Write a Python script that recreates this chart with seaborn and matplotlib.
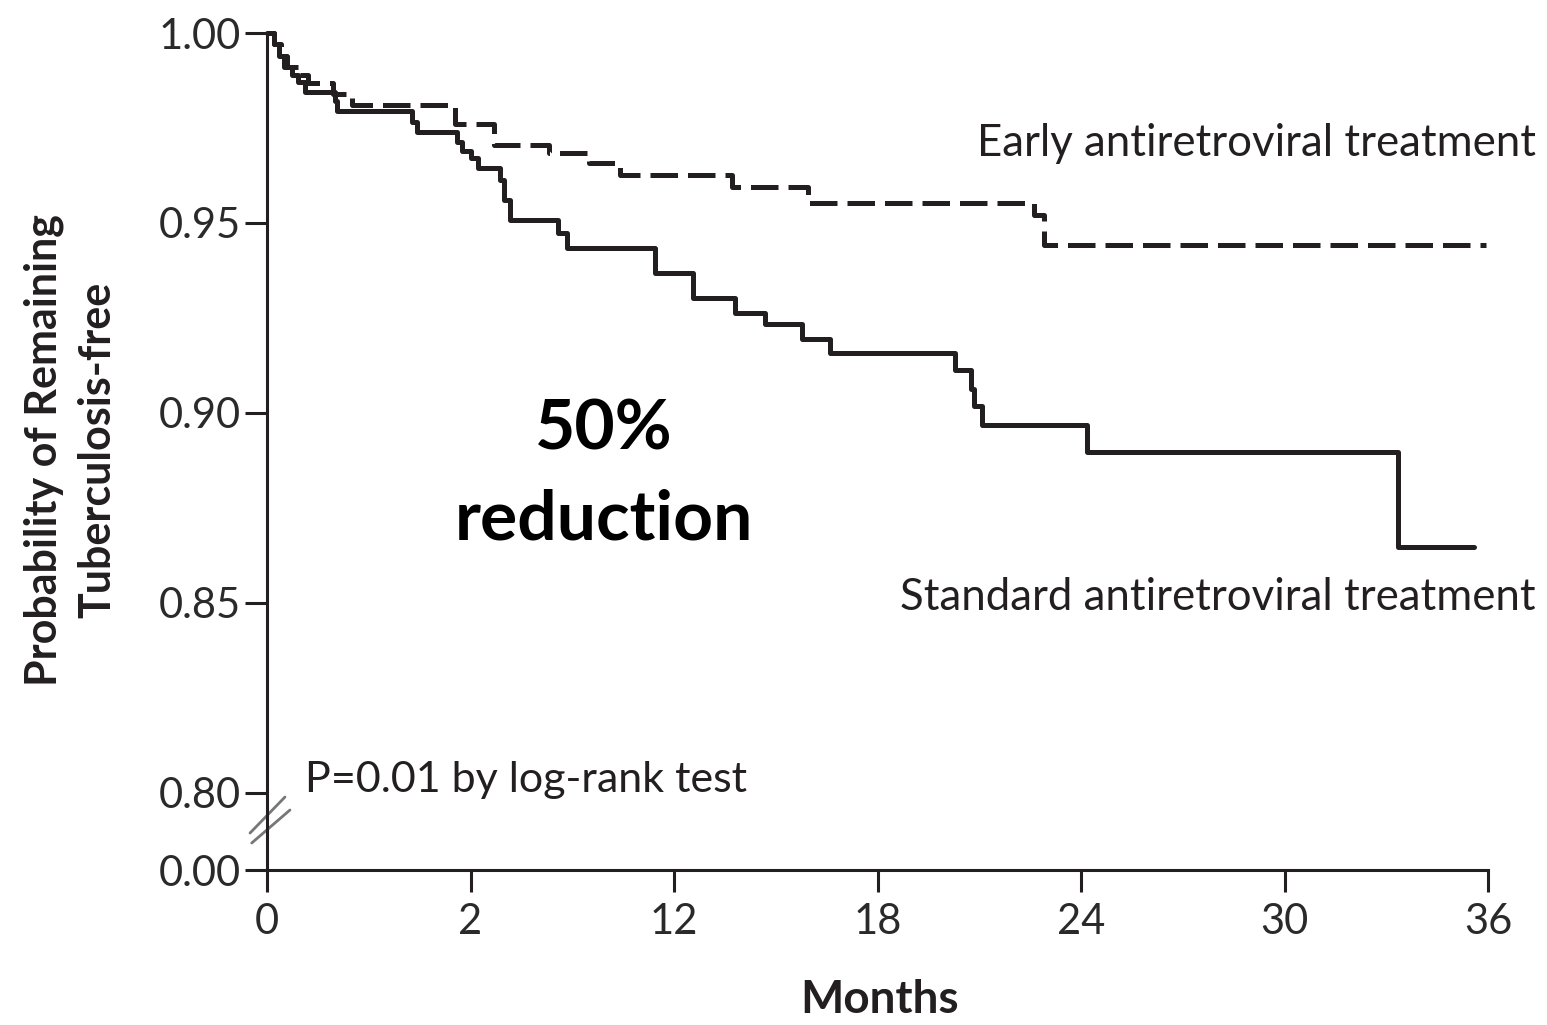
import numpy as np
import pandas as pd
import matplotlib
matplotlib.use("Agg")
import matplotlib.pyplot as plt
import seaborn as sns

# Kaplan-Meier step data (months, survival)
early_t = [0, 0.2, 0.4, 0.6, 0.9, 1.2, 1.95, 2.5, 5.55, 6.7, 8.3, 9.5, 10.4, 13.7, 15.95, 22.6, 22.9, 35.95]
early_s = [1.000, 0.997, 0.994, 0.991, 0.989, 0.9868, 0.984, 0.981, 0.976, 0.9705,
           0.9684, 0.9658, 0.9626, 0.9594, 0.9553, 0.952, 0.9442, 0.9442]

standard_t = [0, 0.2, 0.35, 0.5, 0.75, 0.9, 1.12, 2.0, 2.06, 4.27,
              4.41, 5.59, 5.74, 6.0, 6.23, 6.87, 7.0, 7.16, 8.58, 8.84,
              11.44, 12.56, 13.8, 14.68, 15.76, 16.6, 20.28, 20.77, 20.85, 21.07,
              24.17, 33.35, 35.6]
standard_s = [1.000, 0.997, 0.994, 0.991, 0.989, 0.987, 0.9846, 0.982, 0.9795, 0.9767,
              0.974, 0.9714, 0.969, 0.967, 0.9645, 0.9613, 0.956, 0.9508, 0.9474, 0.9434,
              0.9369, 0.9303, 0.9264, 0.9233, 0.9194, 0.9159, 0.9113, 0.9064, 0.9017, 0.8968,
              0.8896, 0.8648, 0.8648]

xtick_pos = [0, 6, 12, 18, 24, 30, 36]
xtick_labels = ["0", "2", "12", "18", "24", "30", "36"]
# bottom tick stands for 0.00 below the axis break
ytick_pos = [0.7797, 0.80, 0.85, 0.90, 0.95, 1.00]
ytick_labels = ["0.00", "0.80", "0.85", "0.90", "0.95", "1.00"]

ink = "#231f20"

sns.set_theme(style="ticks")
plt.rcParams["font.family"] = ["Lato", "DejaVu Sans"]

df = pd.concat([
    pd.DataFrame({"month": early_t, "surv": early_s, "arm": "Early"}),
    pd.DataFrame({"month": standard_t, "surv": standard_s, "arm": "Standard"}),
])

fig, ax = plt.subplots(figsize=(15.47, 10.25), dpi=100)
fig.subplots_adjust(left=0.1726, right=0.9619, bottom=0.1512, top=0.9678)

sns.lineplot(data=df, x="month", y="surv", style="arm", style_order=["Early", "Standard"],
             dashes={"Early": (5.5, 2), "Standard": ""}, color=ink, lw=3.6,
             drawstyle="steps-post", estimator=None, sort=False, legend=False,
             ax=ax, clip_on=False)

ax.set_xlim(0, 36)
ax.set_ylim(ytick_pos[0], 1.0)
sns.despine(ax=ax)
for s in ["left", "bottom"]:
    ax.spines[s].set_linewidth(2.2)
    ax.spines[s].set_color(ink)

ax.set_xticks(xtick_pos, xtick_labels)
ax.set_yticks(ytick_pos, ytick_labels)
ax.tick_params(axis="both", length=16, width=2.2, color=ink, labelsize=30, labelcolor="#2a2a2a", direction="out")
ax.tick_params(axis="y", pad=3)
ax.tick_params(axis="x", pad=8)

ax.set_xlabel("Months", fontsize=33, fontweight="bold", color=ink, va="center")
ax.xaxis.set_label_coords(0.502, -0.155)
ax.set_ylabel("Probability of Remaining\nTuberculosis-free", fontsize=31, fontweight="bold",
              color=ink, linespacing=1.4, va="center")
ax.yaxis.set_label_coords(-0.161, 0.502)

# axis break marks
for xs, ys in [((-0.0139, 0.0147), (0.0442, 0.0872)), ((-0.0125, 0.0188), (0.0323, 0.0717))]:
    ax.plot(xs, ys, transform=ax.transAxes, color="#777777", lw=2, clip_on=False)

ax.text(37.4, 0.971, "Early antiretroviral treatment", ha="right", va="center",
        fontsize=31.5, color=ink)
ax.text(37.4, 0.8513, "Standard antiretroviral treatment", ha="right", va="center",
        fontsize=31.5, color=ink)
ax.text(1.12, 0.8034, "P=0.01 by log-rank test", ha="left", va="center",
        fontsize=31, color=ink)
ax.text(9.94, 0.8955, "50%", ha="center", va="center", fontsize=50, fontweight="bold", color="black")
ax.text(9.94, 0.8718, "reduction", ha="center", va="center", fontsize=50, fontweight="bold", color="black")

fig.savefig("out.png", dpi=100)
